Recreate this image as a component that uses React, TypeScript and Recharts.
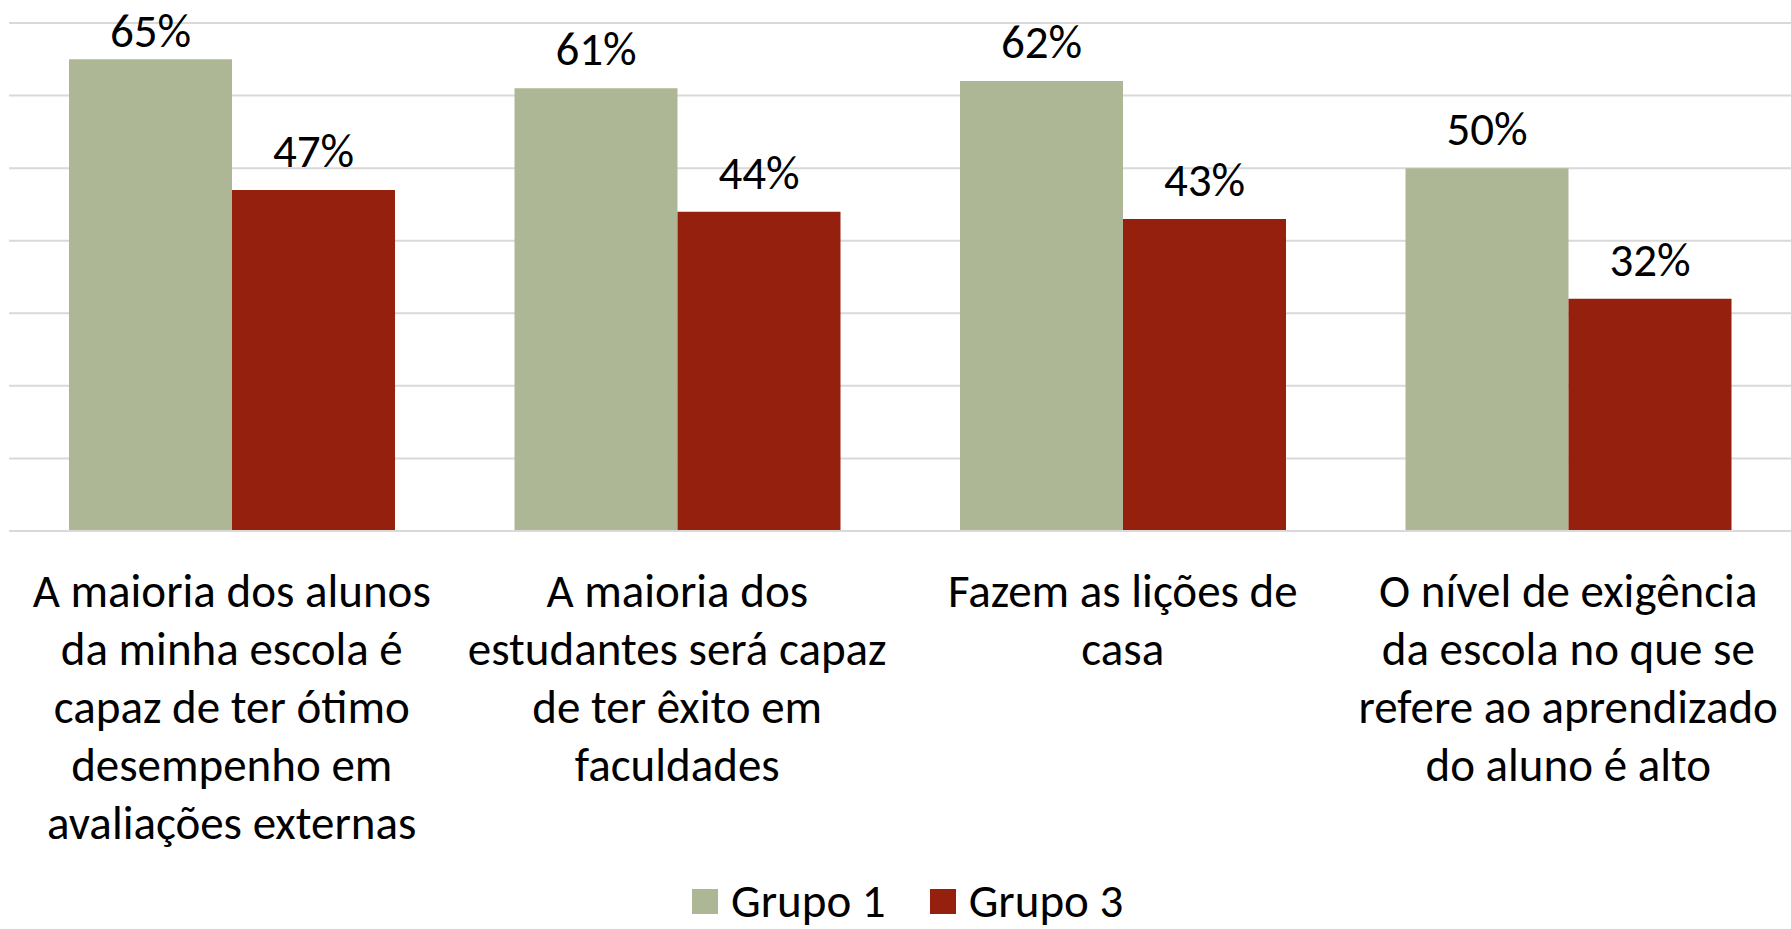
import { BarChart, Bar, XAxis, YAxis, CartesianGrid, LabelList } from "recharts";

const categories = [
  "A maioria dos alunos\nda minha escola é\ncapaz de ter ótimo\ndesempenho em\navaliações externas",
  "A maioria dos\nestudantes será capaz\nde ter êxito em\nfaculdades",
  "Fazem as lições de\ncasa",
  "O nível de exigência\nda escola no que se\nrefere ao aprendizado\ndo aluno é alto",
];
const grupo1 = [65, 61, 62, 50];
const grupo3 = [47, 44, 43, 32];
const yTicks = [0, 10, 20, 30, 40, 50, 60, 70];
const seriesNames = ["Grupo 1", "Grupo 3"];

const FONT = "Calibri, Carlito, Lato, sans-serif";
const FS = 47;
const GREEN = "#adb795";
const RED = "#96200e";

const data = categories.map((name, i) => ({ name, g1: grupo1[i], g3: grupo3[i] }));

function CategoryTick(props: any) {
  const { x, y, payload } = props;
  const lines = String(payload.value).split("\n");
  return (
    <text x={x} y={y} textAnchor="middle" fill="#000" fontSize={FS} fontFamily={FONT}>
      {lines.map((line, i) => (
        <tspan key={i} x={x} dy={i === 0 ? 76 : 58}>
          {line}
        </tspan>
      ))}
    </text>
  );
}

// value label above the bar, kept inside the chart like Excel does
function ValueLabel(props: any) {
  const { x, y, width, value } = props;
  const baseline = Math.max(y - 23, FS);
  return (
    <text x={x + width / 2} y={baseline} textAnchor="middle" fill="#000" fontSize={FS} fontFamily={FONT}>
      {`${value}%`}
    </text>
  );
}

function ChartLegend() {
  const colors = [GREEN, RED];
  return (
    <div
      style={{
        position: "absolute",
        left: 692,
        top: 877,
        display: "flex",
        alignItems: "center",
        gap: 44,
        fontFamily: FONT,
        fontSize: FS,
        lineHeight: "48px",
        color: "#000",
        whiteSpace: "nowrap",
      }}
    >
      {seriesNames.map((label, i) => (
        <div key={label} style={{ display: "flex", alignItems: "center", gap: 13 }}>
          <span style={{ width: 26, height: 25, background: colors[i], display: "inline-block" }} />
          <span>{label}</span>
        </div>
      ))}
    </div>
  );
}

export default function App() {
  return (
    <div style={{ position: "absolute", left: 0, top: 0, width: 1791, height: 929, background: "#fff", overflow: "hidden" }}>
      <BarChart
        width={1791}
        height={929}
        data={data}
        margin={{ top: 23, right: 0, left: 9, bottom: 368 }}
        barCategoryGap={60}
        barGap={0}
      >
        <CartesianGrid vertical={false} stroke="#d9d9d9" strokeWidth={2} />
        <XAxis
          dataKey="name"
          axisLine={{ stroke: "#d9d9d9", strokeWidth: 2 }}
          tickLine={false}
          tickSize={0}
          tickMargin={0}
          interval={0}
          tick={<CategoryTick />}
        />
        <YAxis hide domain={[0, 70]} ticks={yTicks} />
        <Bar dataKey="g1" name={seriesNames[0]} fill={GREEN} isAnimationActive={false}>
          <LabelList dataKey="g1" content={<ValueLabel />} />
        </Bar>
        <Bar dataKey="g3" name={seriesNames[1]} fill={RED} isAnimationActive={false}>
          <LabelList dataKey="g3" content={<ValueLabel />} />
        </Bar>
      </BarChart>
      <ChartLegend />
    </div>
  );
}
